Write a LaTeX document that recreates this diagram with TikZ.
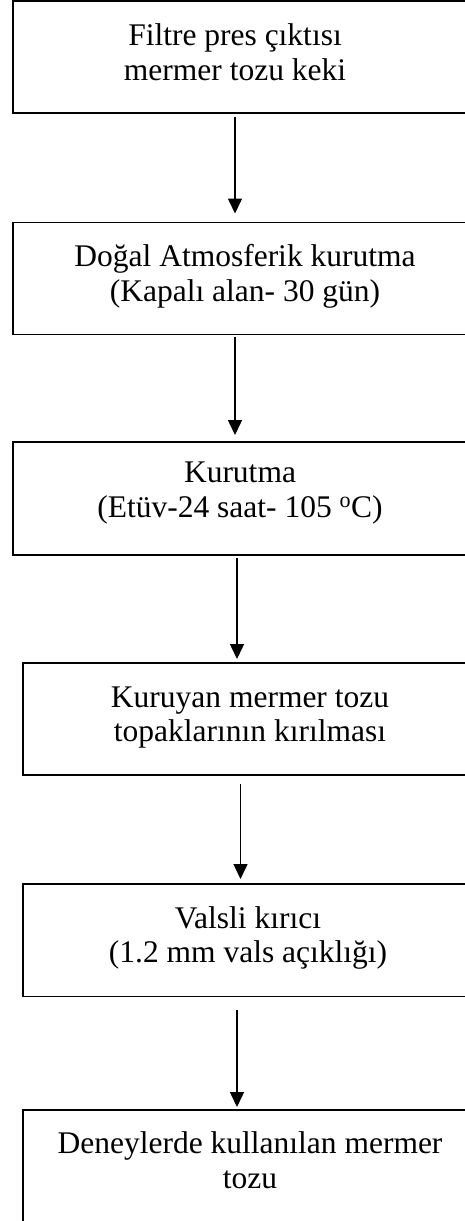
\documentclass[tikz,border=0pt]{standalone}
\usepackage{fontspec}
\setmainfont{Liberation Serif}
\usetikzlibrary{arrows.meta,calc}
\begin{document}
\begin{tikzpicture}[x=1pt,y=-1pt,
  stepbox/.style={draw=black,line width=1.8pt,inner sep=0pt,outer sep=0pt,anchor=north west},
  linetext/.style={anchor=base,inner sep=0pt,font=\fontsize{31.5}{34.5}\selectfont},
  arr/.style={draw=black,line width=1.5pt,-{Triangle[length=15pt,width=14pt]}}]
\useasboundingbox (0,0) rectangle (465,1221);
\clip (0,0) rectangle (465,1221);
% boxes
\node[stepbox,minimum width=457pt,minimum height=112pt] (b1) at (13,1) {};
\node[stepbox,minimum width=457pt,minimum height=112pt] (b2) at (13,222.5) {};
\node[stepbox,minimum width=457pt,minimum height=113pt] (b3) at (13,442) {};
\node[stepbox,minimum width=447pt,minimum height=112pt] (b4) at (23,663) {};
\node[stepbox,minimum width=447pt,minimum height=112.5pt] (b5) at (23,884) {};
\node[stepbox,minimum width=447pt,minimum height=125pt] (b6) at (23,1110) {};
% texts
\node[linetext] (t1a) at (235,45) {Filtre pres çıktısı};
\node[linetext] (t1b) at (235,80) {mermer tozu keki};
\node[linetext] (t2a) at (245,266.5) {Doğal Atmosferik kurutma};
\node[linetext] (t2b) at (245,301) {(Kapalı alan- 30 gün)};
\node[linetext] (t3a) at (240,482) {Kurutma};
\node[linetext] (t3b) at (240,517) {(Etüv-24 saat- 105 \textsuperscript{o}C)};
\node[linetext] (t4a) at (250,707) {Kuruyan mermer tozu};
\node[linetext] (t4b) at (250,741) {topaklarının kırılması};
\node[linetext] (t5a) at (248,928) {Valsli kırıcı};
\node[linetext] (t5b) at (248,962) {(1.2 mm vals açıklığı)};
\node[linetext] (t6a) at (250,1153) {Deneylerde kullanılan mermer};
\node[linetext] (t6b) at (250,1188) {tozu};
% arrows
\draw[arr] ($(b1.south west)+(222,3.5)$) -- ($(b2.north west)+(222,-9)$);
\draw[arr] ($(b2.south west)+(222,2)$) -- ($(b3.north west)+(222,-7)$);
\draw[arr] ($(b3.south west)+(224,3)$) -- ($(b4.north west)+(214,-4)$);
\draw[arr] ($(b4.south west)+(217.5,9)$) -- ($(b5.north west)+(217.5,-5)$);
\draw[arr] ($(b5.south west)+(214,13.5)$) -- ($(b6.north west)+(214,-3)$);
\end{tikzpicture}
\end{document}
